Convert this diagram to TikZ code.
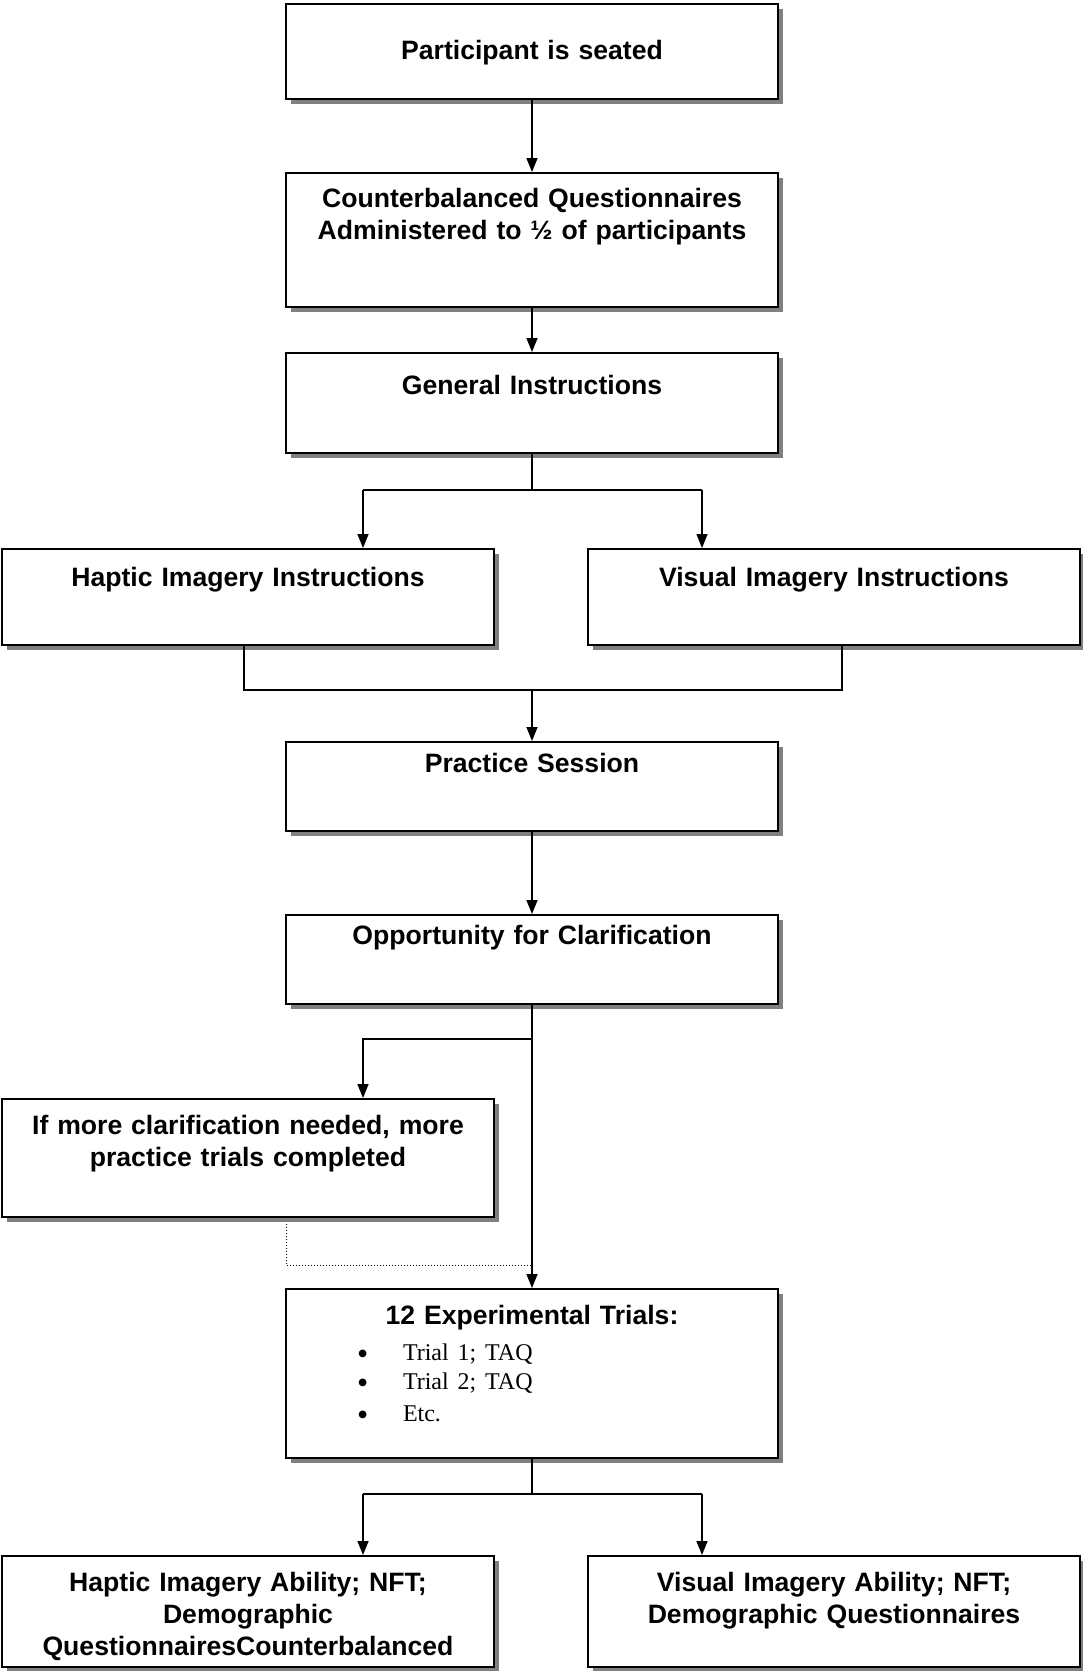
\documentclass[tikz,border=0pt]{standalone}
\usepackage{fontspec}
\setmainfont{Liberation Sans}
\newfontfamily\trialfont{Liberation Serif}
\usetikzlibrary{arrows.meta,shadows}
\frenchspacing
\newcommand\trialdot{\raisebox{-4pt}{\fontsize{32}{29.5}\selectfont\textbullet}}

\begin{document}
\begin{tikzpicture}[x=1pt,y=-1pt,line width=1.5pt,
  stage/.style={draw,fill=white,anchor=north,inner sep=0pt,text width=492pt,align=center,
    font=\bfseries\fontsize{26.6}{32}\selectfont,
    drop shadow={shadow xshift=5pt,shadow yshift=-5pt,opacity=1,fill=black!50}},
  link/.style={-{Triangle[length=14pt,width=11pt]}}]
  \useasboundingbox (0,0) rectangle (1083,1671);
  %%%
  \node[stage,text height=56pt,text depth=39pt] (seated) at (532,3) {Participant is seated};
  \node[stage,text height=35pt,text depth=99pt] (questA) at (532,172) {Counterbalanced Questionnaires\\Administered to ½ of participants};
  \node[stage,text height=42pt,text depth=58pt] (general) at (532,352) {General Instructions};
  \node[stage,text height=38pt,text depth=58pt] (hapticInstr) at (248,548) {Haptic Imagery Instructions};
  \node[stage,text height=38pt,text depth=58pt] (visualInstr) at (834,548) {Visual Imagery Instructions};
  \node[stage,text height=31pt,text depth=58pt] (practice) at (532,741) {Practice Session};
  \node[stage,text height=30pt,text depth=59pt] (clarify) at (532,914) {Opportunity for Clarification};
  \node[stage,text height=36pt,text depth=82pt] (moreTrials) at (248,1098) {If more clarification needed, more\\practice trials completed};
  \node[stage,text height=36pt,text depth=133pt] (trials) at (532,1288) {12 Experimental Trials:\\[6pt]
    {\trialfont\mdseries\fontsize{24}{29.5}\selectfont
    \makebox[492pt][l]{\hspace{71pt}\makebox[46pt][l]{\trialdot}Trial 1; TAQ}\\
    \makebox[492pt][l]{\hspace{71pt}\makebox[46pt][l]{\trialdot}Trial 2; TAQ}\\
    \makebox[492pt][l]{\hspace{71pt}\makebox[46pt][l]{\trialdot}Etc.}}};
  \node[stage,text height=36pt,text depth=75pt] (hapticAbility) at (248,1555) {Haptic Imagery Ability; NFT;\\Demographic\\QuestionnairesCounterbalanced};
  \node[stage,text height=36pt,text depth=75pt] (visualAbility) at (834,1555) {Visual Imagery Ability; NFT;\\Demographic Questionnaires};
  %%%
  \coordinate (splitA) at (532,490);
  \coordinate (splitAL) at (363,490);
  \coordinate (splitAR) at (702,490);
  \coordinate (mergeL) at (244,690);
  \coordinate (mergeR) at (842,690);
  \coordinate (mergeM) at (532,690);
  \coordinate (splitB) at (532,1039);
  \coordinate (splitBL) at (363,1039);
  \coordinate (loopA) at (286,1224);
  \coordinate (loopB) at (286,1265);
  \coordinate (splitC) at (532,1494);
  \coordinate (splitCL) at (363,1494);
  \coordinate (splitCR) at (702,1494);
  %%%
  \draw[link] (seated) -- (questA);
  \draw[link] (questA) -- (general);
  \draw (general) -- (splitA);
  \draw (splitAL) -- (splitAR);
  \draw[link] (splitAL) -- (splitAL |- hapticInstr.north);
  \draw[link] (splitAR) -- (splitAR |- visualInstr.north);
  \draw (hapticInstr.south -| mergeL) -- (mergeL) -- (mergeR) -- (visualInstr.south -| mergeR);
  \draw[link] (mergeM) -- (practice);
  \draw[link] (practice) -- (clarify);
  \draw[link] (clarify) -- (trials);
  \draw[link] (splitB) -- (splitBL) -- (splitBL |- moreTrials.north);
  \draw[dotted,line width=1pt] (loopA) -- (loopB) -- (loopB -| trials.north);
  \draw (trials) -- (splitC);
  \draw (splitCL) -- (splitCR);
  \draw[link] (splitCL) -- (splitCL |- hapticAbility.north);
  \draw[link] (splitCR) -- (splitCR |- visualAbility.north);
\end{tikzpicture}
\end{document}
